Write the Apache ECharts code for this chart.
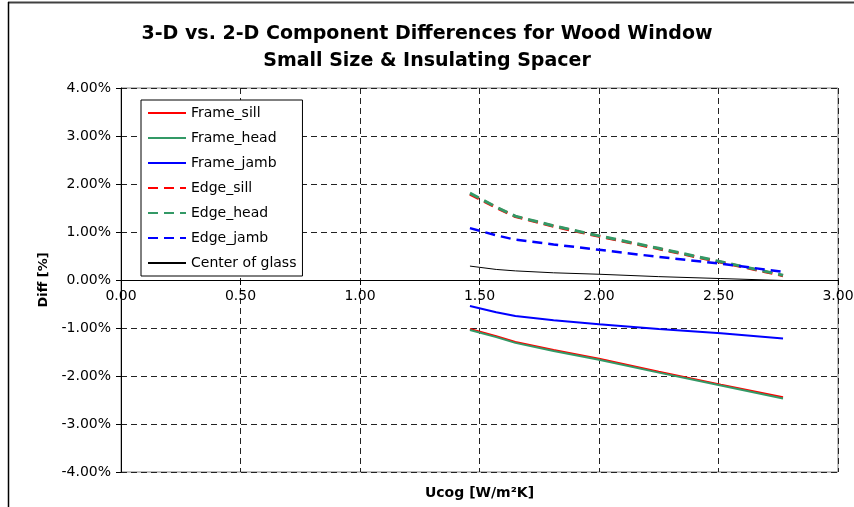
<!DOCTYPE html>
<html>
<head>
<meta charset="utf-8">
<script src="https://cdn.jsdelivr.net/npm/echarts@6/dist/echarts.min.js"></script>
<style>
  html, body { margin: 0; padding: 0; background: #fff; }
  #chart { width: 854px; height: 507px; }
</style>
</head>
<body>
<div id="chart"></div>
<script>
// Ucog values [W/m2K]
let ucog = [1.46, 1.57, 1.65, 1.81, 2.00, 2.25, 2.51, 2.77]

// differences in %
let frame_sill = [-1.02, -1.17, -1.29, -1.46, -1.64, -1.91, -2.18, -2.44]
let frame_head = [-1.04, -1.19, -1.31, -1.48, -1.66, -1.93, -2.20, -2.47]
let frame_jamb = [-0.54, -0.67, -0.75, -0.84, -0.92, -1.02, -1.11, -1.22]
let edge_sill = [1.79, 1.51, 1.32, 1.12, 0.91, 0.65, 0.37, 0.09]
let edge_head = [1.81, 1.52, 1.33, 1.13, 0.92, 0.66, 0.38, 0.10]
let edge_jamb = [1.08, 0.93, 0.84, 0.74, 0.63, 0.48, 0.34, 0.17]
let center_glass = [0.29, 0.22, 0.19, 0.15, 0.12, 0.07, 0.03, -0.01]

let FONT = 'DejaVu Sans, Liberation Sans, sans-serif'

function pairs(vals) {
    return ucog.map(function (u, i) { return [u, vals[i]] })
}

function mkLine(name, vals, color, width, type) {
    return {
        name: name,
        type: 'line',
        data: pairs(vals),
        symbol: 'none',
        showSymbol: false,
        lineStyle: { color: color, width: width, type: type },
        itemStyle: { color: color },
        emphasis: { disabled: true }
    }
}

let myChart = echarts.init(document.getElementById('chart'))

let option = {
    animation: false,
    backgroundColor: '#fff',
    title: {
        text: '3-D vs. 2-D Component Differences for Wood Window\nSmall Size & Insulating Spacer',
        left: 'center',
        top: 16,
        textStyle: {
            fontFamily: FONT,
            fontSize: 19,
            fontWeight: 'bold',
            color: '#000',
            lineHeight: 27
        }
    },
    graphic: [
        { type: 'line', shape: { x1: 8, y1: 2.5, x2: 854, y2: 2.5 }, style: { stroke: '#404040', lineWidth: 2 } },
        { type: 'line', shape: { x1: 8.5, y1: 2, x2: 8.5, y2: 507 }, style: { stroke: '#000', lineWidth: 1.5 } }
    ],
    legend: {
        orient: 'vertical',
        left: 141,
        top: 100,
        backgroundColor: '#fff',
        borderColor: '#000',
        borderWidth: 1,
        padding: [6, 6, 6, 6],
        itemWidth: 38,
        itemHeight: 14,
        itemGap: 11,
        itemStyle: { opacity: 0 },
        textStyle: { fontFamily: FONT, fontSize: 14, color: '#000' },
        data: ['Frame_sill', 'Frame_head', 'Frame_jamb', 'Edge_sill', 'Edge_head', 'Edge_jamb', 'Center of glass']
    },
    grid: {
        left: 121, right: 16, top: 88, bottom: 35,
        show: true, borderColor: '#808080', borderWidth: 1,
        containLabel: false, outerBoundsMode: 'none'
    },
    xAxis: {
        type: 'value',
        position: 'bottom',
        offset: -192, // axis sits on the 0% line
        min: 0,
        max: 3,
        interval: 0.5,
        name: 'Ucog [W/m²K]',
        nameLocation: 'middle',
        nameGap: 206,
        nameTextStyle: { fontFamily: FONT, fontSize: 14, fontWeight: 'bold', color: '#000' },
        axisLine: { onZero: false, lineStyle: { color: '#000', width: 1 } },
        axisTick: { show: true, length: 5, lineStyle: { color: '#000' } },
        axisLabel: {
            fontFamily: FONT, fontSize: 14, color: '#000', margin: 9,
            formatter: function (v) { return v.toFixed(2) }
        },
        splitLine: { show: true, lineStyle: { color: '#222', type: [6, 4], width: 1 } }
    },
    yAxis: {
        type: 'value',
        min: -4,
        max: 4,
        interval: 1,
        name: 'Diff [%]',
        nameLocation: 'middle',
        nameGap: 67,
        nameTextStyle: { fontFamily: FONT, fontSize: 13, fontWeight: 'bold', color: '#000' },
        axisLine: { show: true, onZero: false, lineStyle: { color: '#000', width: 1 } },
        axisTick: { show: true, length: 5, lineStyle: { color: '#000' } },
        axisLabel: {
            fontFamily: FONT, fontSize: 14, color: '#000', margin: 10,
            showMinLabel: true, showMaxLabel: true,
            formatter: function (v) { return v.toFixed(2) + '%' }
        },
        splitLine: { show: true, lineStyle: { color: '#222', type: [6, 4], width: 1 } }
    },
    series: [
        mkLine('Frame_sill', frame_sill, '#ff0000', 2, 'solid'),
        mkLine('Frame_head', frame_head, '#339966', 2, 'solid'),
        mkLine('Frame_jamb', frame_jamb, '#0000ff', 2, 'solid'),
        mkLine('Edge_sill', edge_sill, '#ff0000', 3, [10, 6]),
        mkLine('Edge_head', edge_head, '#339966', 3, [10, 6]),
        mkLine('Edge_jamb', edge_jamb, '#0000ff', 2.5, [10, 6]),
        mkLine('Center of glass', center_glass, '#000000', 1, 'solid')
    ]
}
myChart.setOption(option)
</script>
</body>
</html>
